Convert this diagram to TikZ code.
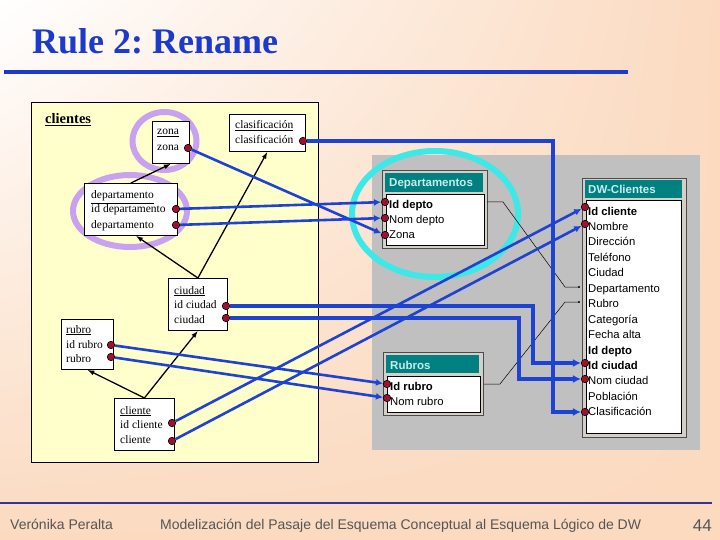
\documentclass[tikz,border=0pt]{standalone}
\usepackage{fontspec}
\setmainfont{Liberation Serif}
\setsansfont{Liberation Sans}
\usetikzlibrary{arrows.meta,shadings}
\frenchspacing

\definecolor{peach}{RGB}{251,218,192}
\definecolor{paneyellow}{RGB}{255,255,204}
\definecolor{titleblue}{RGB}{28,58,204}
\definecolor{linkblue}{RGB}{30,66,212}
\definecolor{keyred}{RGB}{160,16,48}
\definecolor{lilac}{RGB}{200,162,240}
\definecolor{aqua}{RGB}{60,232,232}
\definecolor{accessgray}{RGB}{192,192,192}
\definecolor{accessteal}{RGB}{0,128,128}
\definecolor{framegray}{RGB}{212,208,200}
\definecolor{headtxt}{RGB}{200,236,236}
\definecolor{footgray}{RGB}{85,85,85}
\definecolor{footnavy}{RGB}{51,51,153}

\tikzset{
  ebox/.style={draw=black, fill=white, anchor=north west, inner sep=0pt, line width=0.8pt},
  etxt/.style={anchor=base west, inner sep=0pt, font=\fontsize{11.5}{13}\selectfont},
  ftxt/.style={anchor=base west, inner sep=0pt, font=\sffamily\fontsize{11.3}{12}\selectfont},
  htxt/.style={anchor=base west, inner sep=0pt, text=headtxt, font=\sffamily\bfseries\fontsize{11.5}{12}\selectfont},
  keydot/.style={circle, draw=black, fill=keyred, inner sep=0pt, minimum size=7.5pt, line width=0.6pt},
  isa/.style={black, line width=1.3pt, -{Latex[length=7pt,width=5pt]}},
  link/.style={linkblue, line width=2.6pt, -{Latex[length=7pt,width=7pt]}},
  fatlink/.style={link, line width=4.2pt, -{Latex[length=8pt,width=8pt]}},
  joinline/.style={black, line width=0.5pt},
  ring/.style={line width=6pt},
  tblframe/.style={fill=framegray, draw=gray!60!black, line width=0.8pt},
  tblhead/.style={fill=accessteal, anchor=north west, inner sep=0pt},
  tblbody/.style={fill=white, draw=black, line width=0.8pt},
  foot/.style={inner sep=0pt, text=footgray, font=\sffamily\fontsize{14}{16}\selectfont}
}

\begin{document}
\begin{tikzpicture}[x=1pt, y=-1pt]
  \useasboundingbox (0,0) rectangle (720,540);
  \shade[upper left=white, upper right=peach, lower left=peach, lower right=peach] (0,0) rectangle (720,540);

  % title
  \node[anchor=base west, inner sep=0pt, text=titleblue, font=\bfseries\fontsize{36}{40}\selectfont] (title) at (32,54) {Rule 2: Rename};
  \draw[titleblue, line width=4.5pt] (4,72) -- (628,72);

  % panels
  \draw[fill=paneyellow, line width=0.8pt] (31,102) rectangle (318,462);
  \fill[accessgray] (372,155) rectangle (700,450);
  \node[anchor=base west, inner sep=0pt, font=\bfseries\fontsize{14.5}{16}\selectfont] (clientes) at (45,124) {\underline{clientes}};

  % rings
  \draw[lilac, ring] (164.5,141) ellipse [x radius=32pt, y radius=29pt];
  \draw[lilac, ring] (130,211) ellipse [x radius=57pt, y radius=36pt];
  \draw[aqua, ring] (435,214) ellipse [x radius=83pt, y radius=63pt];

  % conceptual levels
  \node[ebox, minimum width=37pt, minimum height=42pt] (zona) at (152,121) {};
  \node[etxt] at (157,135) {\underline{zona}};
  \node[etxt] at (157,151) {zona};

  \node[ebox, minimum width=76pt, minimum height=37pt] (clas) at (229,114) {};
  \node[etxt] at (235,129) {\underline{clasificación}};
  \node[etxt] at (235,144) {clasificación};

  \node[ebox, minimum width=93pt, minimum height=52pt] (dept) at (84,183) {};
  \node[etxt] at (91,199) {\underline{departamento}};
  \node[etxt] at (91,213) {id departamento};
  \node[etxt] at (91,229) {departamento};

  \node[ebox, minimum width=59pt, minimum height=52pt] (ciudad) at (168,278) {};
  \node[etxt] at (174,294) {\underline{ciudad}};
  \node[etxt] at (174,308) {id ciudad};
  \node[etxt] at (174,323) {ciudad};

  \node[ebox, minimum width=52pt, minimum height=50pt] (rubro) at (61,319) {};
  \node[etxt] at (66,333) {\underline{rubro}};
  \node[etxt] at (66,348) {id rubro};
  \node[etxt] at (66,362) {rubro};

  \node[ebox, minimum width=60pt, minimum height=52pt] (cliente) at (114,398) {};
  \node[etxt] at (120,414) {\underline{cliente}};
  \node[etxt] at (120,428) {id cliente};
  \node[etxt] at (120,443) {cliente};

  % hierarchy
  \draw[isa] (dept.north) -- (zona.south);
  \draw[isa] (ciudad.north) -- ([xshift=5pt]dept.south);
  \draw[isa] (ciudad.north) -- (clas.south);
  \draw[isa] (cliente.north) -- (ciudad.south);
  \draw[isa] (cliente.north) -- (rubro.south);

  % access tables
  \draw[tblframe] (382,170) rectangle (487,248);
  \node[tblhead, minimum width=98pt, minimum height=19pt] (deph) at (385,173) {};
  \node[htxt] at (389,187) {Departamentos};
  \draw[tblbody] (386,194) rectangle (484,245);
  \foreach \fld [count=\i from 0] in {\textbf{Id depto}, Nom depto, Zona}
    \node[ftxt] (dp\i) at (389,{208+15.5*\i}) {\fld};

  \draw[tblframe] (383,352) rectangle (483,415);
  \node[tblhead, minimum width=93pt, minimum height=18pt] (rubh) at (386,355) {};
  \node[htxt] at (390,369) {Rubros};
  \draw[tblbody] (387,376) rectangle (480,412);
  \foreach \fld [count=\i from 0] in {\textbf{Id rubro}, Nom rubro}
    \node[ftxt] (rb\i) at (390,{390+15.5*\i}) {\fld};

  \draw[tblframe] (582,178) rectangle (686,437);
  \node[tblhead, minimum width=97pt, minimum height=18pt] (dwh) at (585,180) {};
  \node[htxt] at (588,194) {DW-Clientes};
  \draw[tblbody] (586,200) rectangle (681,433);
  \foreach \fld [count=\i from 0] in {\textbf{Id cliente}, Nombre, Dirección, Teléfono, Ciudad, Departamento, Rubro, Categoría, Fecha alta, \textbf{Id depto}, \textbf{Id ciudad}, Nom ciudad, Población, Clasificación}
    \node[ftxt] (dw\i) at (588,{215+15.45*\i}) {\fld};

  % joins
  \coordinate (depj) at (487,202);
  \coordinate (rubj) at (484,384);
  \coordinate (dwdep) at (579,287);
  \coordinate (dwrub) at (579,302);
  \draw[joinline] (depj) -- ++(16,0) -- ([xshift=-14pt]dwdep) -- (dwdep);
  \draw[joinline] (rubj) -- ++(16,0) -- ([xshift=-14pt]dwrub) -- (dwrub);
  \fill[black] (dwdep) circle [radius=1.2pt];
  \fill[black] (dwrub) circle [radius=1.2pt];

  % keys
  \node[keydot] (zonak) at (188,148) {};
  \node[keydot] (clask) at (303,141) {};
  \node[keydot] (deptid) at (176,209) {};
  \node[keydot] (deptnm) at (176,225) {};
  \node[keydot] (ciuid) at (226,306) {};
  \node[keydot] (ciunm) at (226,318) {};
  \node[keydot] (rubid) at (111,345) {};
  \node[keydot] (rubnm) at (111,357) {};
  \node[keydot] (cliid) at (172,423) {};
  \node[keydot] (clinm) at (172,441) {};

  \node[keydot] (dpid) at (385,202) {};
  \node[keydot] (dpnm) at (385,218) {};
  \node[keydot] (dpzn) at (385,235) {};
  \node[keydot] (rbid) at (387,384) {};
  \node[keydot] (rbnm) at (387,398) {};
  \node[keydot] (dwid) at (585,207) {};
  \node[keydot] (dwnm) at (585,224) {};
  \node[keydot] (dwcid) at (585,363) {};
  \node[keydot] (dwcnm) at (585,379) {};
  \node[keydot] (dwcls) at (585,412) {};

  % renames
  \draw[link] (zonak) -- (dpzn);
  \draw[link] (deptid) -- (dpid);
  \draw[link] (deptnm) -- (dpnm);
  \draw[link] (rubid) -- (rbid);
  \draw[link] (rubnm) -- (rbnm);
  \draw[link] (cliid) -- (dwid);
  \draw[link] (clinm) -- (dwnm);
  \draw[fatlink] (clask) -| ([xshift=-32pt]dwcls.center) -- (dwcls);
  \draw[fatlink] (ciuid) -| ([xshift=-52pt]dwcid.center) -- (dwcid);
  \draw[fatlink] (ciunm) -| ([xshift=-66pt]dwcnm.center) -- (dwcnm);

  % footer
  \draw[footnavy, line width=1.8pt] (0,503) -- (712,503);
  \node[foot, anchor=base west] (author) at (10,529) {Verónika Peralta};
  \node[foot, anchor=base west] (subject) at (160,529) {Modelización del Pasaje del Esquema Conceptual al Esquema Lógico de DW};
  \node[foot, anchor=base east, font=\sffamily\fontsize{17}{19}\selectfont] (pageno) at (712,531) {44};
\end{tikzpicture}
\end{document}
